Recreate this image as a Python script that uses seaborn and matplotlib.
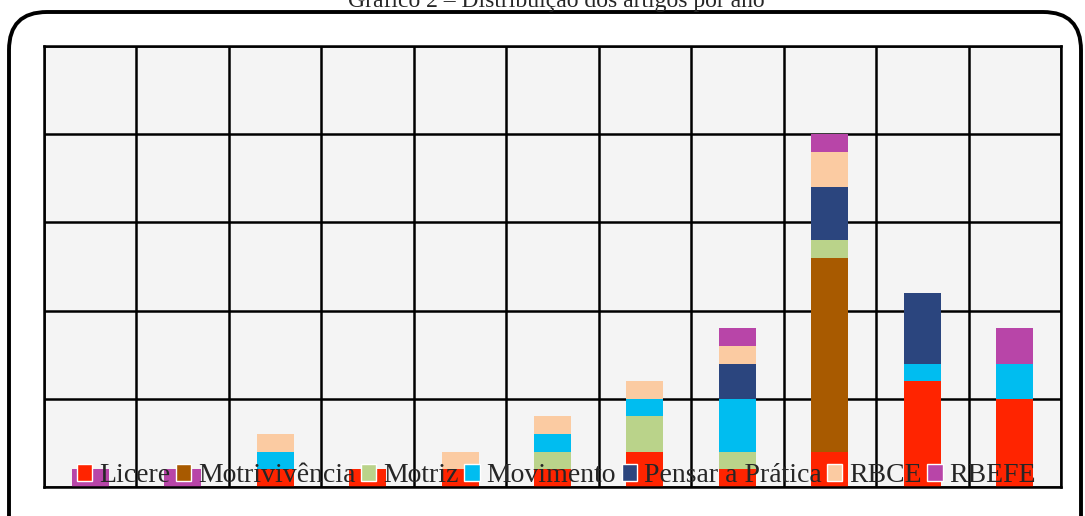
import matplotlib
matplotlib.use("Agg")
import matplotlib.pyplot as plt
from matplotlib.patches import Patch, FancyBboxPatch
import seaborn as sns
import pandas as pd

sns.set_style("white")
plt.rcParams["font.family"] = ["Liberation Serif", "DejaVu Serif"]

# one column per year (labels are hidden in the original)
columns = list(range(11))
journals = ["Licere", "Motrivivência", "Motriz", "Movimento",
            "Pensar a Prática", "RBCE", "RBEFE"]
licere = [0, 0, 1, 1, 1, 1, 2, 1, 2, 6, 5]
motrivivencia = [0, 0, 0, 0, 0, 0, 0, 0, 11, 0, 0]
motriz = [0, 0, 0, 0, 0, 1, 2, 1, 1, 0, 0]
movimento = [0, 0, 1, 0, 0, 1, 1, 3, 0, 1, 2]
pensar = [0, 0, 0, 0, 0, 0, 0, 2, 3, 4, 0]
rbce = [0, 0, 1, 0, 1, 1, 1, 1, 2, 0, 0]
rbefe = [1, 1, 0, 0, 0, 0, 0, 1, 1, 0, 2]
colors = ["#FF2400", "#A85A00", "#BAD38A", "#00BDF0",
          "#2B457E", "#FBCBA2", "#B845A8"]

series = [licere, motrivivencia, motriz, movimento, pensar, rbce, rbefe]
rows = []
for name, vals in zip(journals, series):
    for c, v in zip(columns, vals):
        rows.append({"col": c, "journal": name, "n": v})
df = pd.DataFrame(rows)

fig = plt.figure(figsize=(10.85, 5.16), dpi=100)
ax = fig.add_axes([44 / 1085, 1 - 487 / 516, 1017 / 1085, 441 / 516])
ax.set_facecolor("#F4F4F4")

# seaborn stacks the last hue level at the bottom, so reverse the order
sns.histplot(data=df, x="col", weights="n", hue="journal",
             hue_order=journals[::-1], palette=colors[::-1],
             multiple="stack", discrete=True, shrink=0.4,
             alpha=1, linewidth=0, legend=False, ax=ax)

ax.set_xlim(-0.5, 10.5)
ax.set_ylim(0, 25)
ax.set_xticks([c - 0.5 for c in columns] + [10.5])
ax.set_yticks(range(0, 26, 5))
ax.tick_params(length=0, labelbottom=False, labelleft=False)
ax.set_xlabel("")
ax.set_ylabel("")
ax.set_axisbelow(True)
ax.grid(True, color="black", linewidth=1.8)
for s in ax.spines.values():
    s.set_color("black")
    s.set_linewidth(1.8)

handles = [Patch(facecolor=c, label=j) for j, c in zip(journals, colors)]
fig.legend(handles=handles, loc="center", bbox_to_anchor=(0.513, 1 - 476 / 516),
           ncol=7, frameon=False, fontsize=20, handlelength=0.55,
           handleheight=0.55, handletextpad=0.25, columnspacing=0.2)

fig.text(0.513, 1 - 7 / 516, "Gráfico 2 – Distribuição dos artigos por ano",
         ha="center", va="baseline", fontsize=17)

border = FancyBboxPatch((9 / 1085, -0.1), 1072 / 1085, 1.1 - 12 / 516,
                        boxstyle="round,pad=0,rounding_size=0.035",
                        transform=fig.transFigure, fill=False,
                        edgecolor="black", linewidth=2.8, clip_on=False,
                        mutation_aspect=1085 / 516)
fig.patches.append(border)

fig.savefig("out.png", dpi=100)
